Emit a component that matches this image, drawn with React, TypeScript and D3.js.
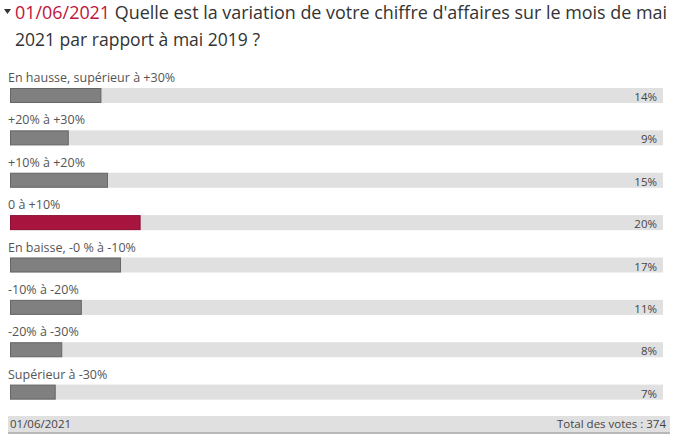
import React from 'react';
import { scaleLinear, scaleBand } from 'd3';

const categories = [
  'En hausse, supérieur à +30%',
  '+20% à +30%',
  '+10% à +20%',
  '0 à +10%',
  'En baisse, -0 % à -10%',
  '-10% à -20%',
  '-20% à -30%',
  'Supérieur à -30%',
];
const shares = [14, 9, 15, 20, 17, 11, 8, 7];
const highlighted = '0 à +10%';
const pollDate = '01/06/2021';
const question1 = " Quelle est la variation de votre chiffre d'affaires sur le mois de mai";
const question2 = '2021 par rapport à mai 2019 ?';
const totalVotes = 374;

const W = 676;
const H = 445;
const trackLeft = 10;
const trackRight = 663;

const App: React.FC = () => {
  const x = scaleLinear().domain([0, 100]).range([0, trackRight - trackLeft]);
  const y = scaleBand<string>().domain(categories).range([70, 409]).paddingInner(0);
  const font = "'Open Sans', sans-serif";

  return (
    <svg
      width={W}
      height={H}
      style={{ position: 'absolute', left: 0, top: 0, background: '#fff' }}
    >
      {/* title */}
      <path d="M4,9 L11,9 L7.5,14 Z" fill="#333" />
      <text x={15} y={19} fontFamily={font} fontSize={18} fill="#333" textLength={652} lengthAdjust="spacingAndGlyphs">
        <tspan fill="#c0143c">{pollDate}</tspan>
        {question1}
      </text>
      <text x={15} y={46} fontFamily={font} fontSize={18} fill="#333" textLength={245} lengthAdjust="spacingAndGlyphs">
        {question2}
      </text>

      {categories.map((c, i) => {
        const top = y(c) as number;
        const red = c === highlighted;
        return (
          <g key={c}>
            <text x={8} y={top + 12} fontFamily={font} fontSize={12.5} fill="#555">
              {c}
            </text>
            <rect x={trackLeft} y={top + 18} width={trackRight - trackLeft} height={15} fill="#e0e0e0" />
            <rect
              x={trackLeft + 0.5}
              y={top + 18.5}
              width={x(shares[i]) - 1}
              height={14}
              fill={red ? '#a8163f' : '#808080'}
              stroke={red ? '#8a0f32' : '#666'}
              strokeWidth={1}
            />
            <text x={657} y={top + 31} textAnchor="end" fontFamily={font} fontSize={11.5} fill="#444">
              {shares[i]}%
            </text>
          </g>
        );
      })}

      {/* footer */}
      <rect x={8} y={416} width={662} height={17} fill="#e0e0e0" />
      <rect x={8} y={432} width={662} height={2} fill="#b8b8b8" />
      <text x={10} y={428} fontFamily={font} fontSize={11.5} fill="#444">
        {pollDate}
      </text>
      <text x={666} y={428} textAnchor="end" fontFamily={font} fontSize={11.5} fill="#444">
        Total des votes : {totalVotes}
      </text>
    </svg>
  );
};

export default App;
